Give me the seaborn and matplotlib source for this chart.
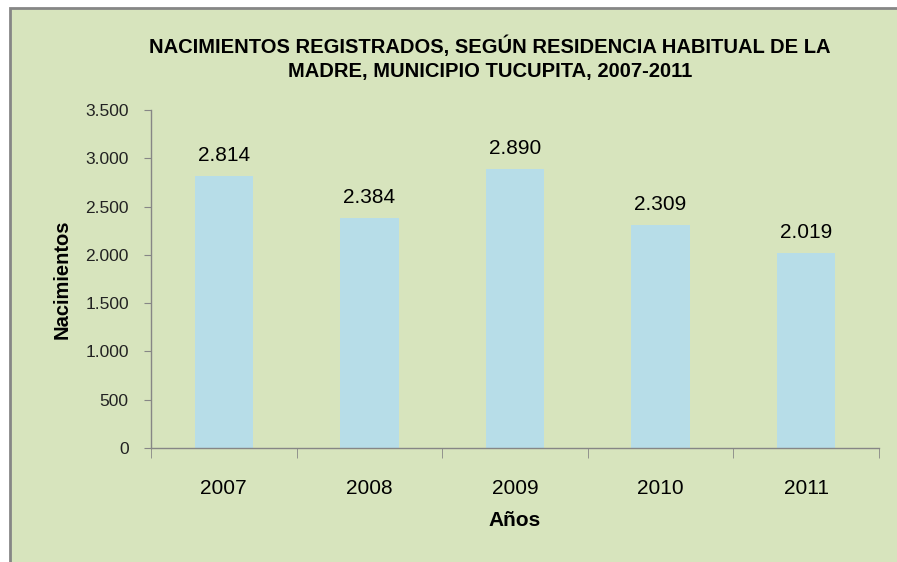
import matplotlib
matplotlib.use("Agg")
import matplotlib.pyplot as plt
import seaborn as sns
import pandas as pd
from matplotlib.patches import Rectangle
from matplotlib.ticker import FuncFormatter, FixedLocator

# data
years = ["2007", "2008", "2009", "2010", "2011"]
births = [2814, 2384, 2890, 2309, 2019]

df = pd.DataFrame({"Año": years, "Nacimientos": births})

sns.set_style("white")
plt.rcParams["font.family"] = ["Liberation Sans", "DejaVu Sans"]
plt.rcParams["text.color"] = "black"
plt.rcParams["axes.labelcolor"] = "black"

BG = "#D7E4BD"
BAR = "#B7DDE8"
AXIS = "#868686"

fig = plt.figure(figsize=(8.97, 5.62), dpi=100)
fig.patch.set_facecolor("white")
# chart frame (green with gray border at top/left)
fig.patches.append(Rectangle((10 / 897, -0.05), 1.05, 1 - 8 / 562 + 0.05,
                             transform=fig.transFigure, facecolor=BG,
                             edgecolor=AXIS, linewidth=2, zorder=-10))

ax = fig.add_axes([151 / 897, 1 - 448 / 562, (879 - 151) / 897, (448 - 110) / 562])
ax.patch.set_alpha(0)

sns.barplot(data=df, x="Año", y="Nacimientos", color=BAR, width=0.4,
            saturation=1, edgecolor="none", linewidth=0, ax=ax)

fmt = lambda v, p=None: f"{int(v):,}".replace(",", ".")
ax.bar_label(ax.containers[0], labels=[fmt(v) for v in births],
             padding=8, fontsize=15, color="black")

ax.set_ylim(0, 3500)
ax.set_yticks(range(0, 3501, 500))
ax.yaxis.set_major_formatter(FuncFormatter(fmt))
ax.set_xlim(-0.5, 4.5)

for s in ["top", "right"]:
    ax.spines[s].set_visible(False)
for s in ["left", "bottom"]:
    ax.spines[s].set_color(AXIS)
    ax.spines[s].set_linewidth(1)

ax.tick_params(axis="y", direction="out", length=5, color=AXIS, left=True,
               labelsize=12.5, labelcolor="#222222", pad=11)
ax.tick_params(axis="x", which="major", length=0, labelsize=15, labelcolor="black", pad=22)
ax.xaxis.set_minor_locator(FixedLocator([-0.5, 0.5, 1.5, 2.5, 3.5, 4.5]))
ax.tick_params(axis="x", which="minor", direction="out", length=7, color=AXIS, bottom=True)

ax.set_xlabel("Años", fontsize=15, fontweight="bold", labelpad=10)
ax.set_ylabel("Nacimientos", fontsize=14.5, fontweight="bold", labelpad=10)

fig.text(490 / 897, 1 - 58 / 562,
         "NACIMIENTOS REGISTRADOS, SEGÚN RESIDENCIA HABITUAL DE LA\nMADRE, MUNICIPIO TUCUPITA, 2007-2011",
         ha="center", va="center", fontsize=14.5, fontweight="bold",
         linespacing=1.3)

fig.savefig("out.png", dpi=100)
